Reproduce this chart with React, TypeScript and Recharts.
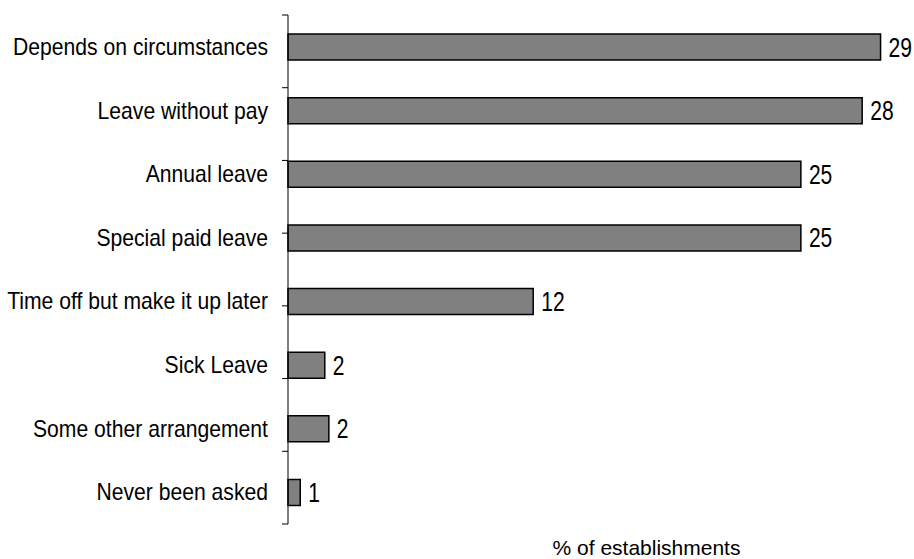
import { Bar, BarChart, LabelList, XAxis, YAxis } from "recharts";

const categories = [
  "Depends on circumstances",
  "Leave without pay",
  "Annual leave",
  "Special paid leave",
  "Time off but make it up later",
  "Sick Leave",
  "Some other arrangement",
  "Never been asked",
];
const shares = [29, 28.1, 25.1, 25.1, 12, 1.8, 2, 0.6];
const boundaryTicks = [0, 1, 2, 3, 4, 5, 6, 7, 8];
const axisTitle = "%  of establishments";

const data = categories.map((name, i) => ({ name, value: shares[i] }));

const font = "'Liberation Sans', Arial, sans-serif";

// the source font is a condensed sans; squeeze Liberation Sans horizontally
function CategoryTick(props: any) {
  const { x, y, payload } = props;
  return (
    <g transform={`translate(${x},${y})`}>
      <text
        transform="scale(0.92,1)"
        textAnchor="end"
        dy="0.355em"
        fill="#000"
        fontSize={23}
        fontFamily={font}
      >
        {payload.value}
      </text>
    </g>
  );
}

function ValueLabel(props: any) {
  const { x, y, width, height, value } = props;
  const lx = x + width + 8;
  const ly = y + height / 2;
  return (
    <g transform={`translate(${lx},${ly})`}>
      <text transform="scale(0.78,1)" dy="0.355em" fill="#000" fontSize={27} fontFamily={font}>
        {Math.round(value)}
      </text>
    </g>
  );
}

export default function App() {
  return (
    <div style={{ position: "absolute", left: 0, top: 0, width: 914, height: 559, background: "#fff" }}>
      <BarChart
        width={914}
        height={559}
        data={data}
        layout="vertical"
        margin={{ top: 15, right: 13, left: 0, bottom: 0 }}
      >
        <XAxis
          type="number"
          domain={[0, 30]}
          axisLine={false}
          tickLine={false}
          tick={false}
          height={35}
          label={{
            value: axisTitle,
            position: "insideBottom",
            offset: 4,
            dx: 52,
            fill: "#000",
            fontSize: 21,
            fontFamily: font,
            style: { whiteSpace: "pre" },
          }}
        />
        <YAxis
          yAxisId="cat"
          type="category"
          dataKey="name"
          width={287}
          axisLine={false}
          tickLine={false}
          tickSize={6}
          tickMargin={13}
          tick={<CategoryTick />}
          interval={0}
        />
        {/* ticks sit on the category boundaries, so they come from a separate numeric axis */}
        <YAxis
          yAxisId="bounds"
          type="number"
          orientation="left"
          domain={[0, 8]}
          ticks={boundaryTicks}
          interval={0}
          width={1}
          axisLine={{ stroke: "#000", strokeWidth: 1 }}
          tickFormatter={() => ""}
          tickSize={6}
          tickLine={{ stroke: "#000", strokeWidth: 1 }}
        />
        <Bar
          yAxisId="cat"
          dataKey="value"
          fill="#808080"
          stroke="#000"
          strokeWidth={1.5}
          barSize={26}
          isAnimationActive={false}
        >
          <LabelList dataKey="value" content={<ValueLabel />} />
        </Bar>
      </BarChart>
    </div>
  );
}
